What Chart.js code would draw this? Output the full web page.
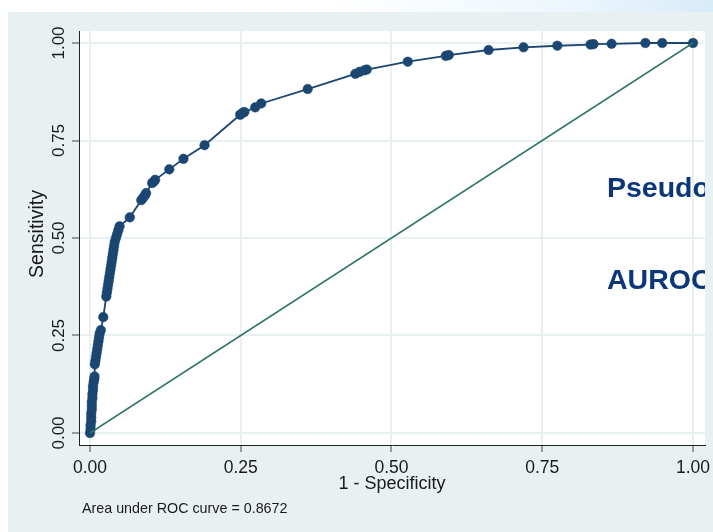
<!DOCTYPE html>
<html>
<head>
<meta charset="utf-8">
<script src="https://cdn.jsdelivr.net/npm/chart.js@4"></script>
<style>
html,body{margin:0;padding:0;background:#fff;}
canvas{display:block;}
</style>
</head>
<body>
<canvas id="c" width="713" height="532"></canvas>
<script>
// ---- data ----
const fpr = [
  0,0.001,0.001,0.002,0.002,0.002,0.003,0.003,0.003,0.004,0.004,0.005,0.005,0.006,0.007,0.0075,
  0.008,0.009,0.010,0.011,0.012,0.013,0.014,0.015,0.016,0.018,
  0.022,
  0.027,0.028,0.029,0.030,0.031,0.032,0.033,0.034,0.035,0.036,0.037,0.038,0.039,0.040,0.041,0.043,0.045,0.047,0.049,
  0.066,
  0.085,0.088,0.091,0.093,
  0.103,0.106,0.108,
  0.1315,0.155,0.190,
  0.249,0.253,0.256,0.274,0.284,
  0.361,0.440,0.447,0.455,0.459,
  0.527,0.590,0.595,0.661,0.719,0.775,0.830,0.835,0.865,0.921,0.949,1.000
];
const tpr = [
  0,0.010,0.020,0.030,0.040,0.050,0.060,0.070,0.080,0.090,0.100,0.110,0.120,0.130,0.138,0.145,
  0.176,0.185,0.195,0.205,0.215,0.225,0.235,0.245,0.255,0.264,
  0.297,
  0.350,0.360,0.370,0.380,0.390,0.400,0.410,0.420,0.430,0.440,0.450,0.460,0.470,0.480,0.490,0.500,0.510,0.520,0.530,
  0.553,
  0.597,0.603,0.609,0.615,
  0.641,0.645,0.649,
  0.676,0.703,0.738,
  0.816,0.821,0.823,0.835,0.845,
  0.882,0.921,0.926,0.930,0.932,
  0.952,0.967,0.969,0.982,0.989,0.993,0.996,0.997,0.998,1.000,1.000,1.000
];
const refX = [0, 1];
const refY = [0, 1];
const xTicks = [0, 0.25, 0.5, 0.75, 1];
const yTicks = [0, 0.25, 0.5, 0.75, 1];
const xTickLabels = ['0.00','0.25','0.50','0.75','1.00'];
const yTickLabels = ['0.00','0.25','0.50','0.75','1.00'];
const xTitle = '1 - Specificity';
const yTitle = 'Sensitivity';
const noteText = 'Area under ROC curve = 0.8672';
const overlayTexts = ['Pseudo', 'AUROC'];

// ---- build ----
const rocData = fpr.map((v,i)=>({x:v, y:tpr[i]}));
const refData = refX.map((v,i)=>({x:v, y:refY[i]}));

const bgPlugin = {
  id:'bg',
  beforeDraw(chart){
    const {ctx, chartArea:a, width, height} = chart;
    ctx.save();
    ctx.fillStyle = '#ffffff';
    ctx.fillRect(0,0,width,height);
    const g = ctx.createLinearGradient(330,0,713,0);
    g.addColorStop(0,'#ffffff');
    g.addColorStop(0.6,'#eef7fd');
    g.addColorStop(1,'#d8ebf8');
    ctx.fillStyle = g;
    ctx.fillRect(0,0,width,12);
    ctx.fillStyle = '#e9f0f2';
    ctx.fillRect(8,12,width-8,height-12);
    ctx.fillStyle = '#ffffff';
    ctx.fillRect(a.left,a.top,a.right-a.left,a.bottom-a.top);
    ctx.restore();
  }
};

const FONT = '"Liberation Sans", Arial, sans-serif';
const textPlugin = {
  id:'texts',
  afterDraw(chart){
    const {ctx, chartArea:a} = chart;
    const xs = chart.scales.x, ys = chart.scales.y;
    ctx.save();
    ctx.fillStyle = '#1a1a1a';
    ctx.font = '17.5px ' + FONT;
    ctx.textAlign = 'center';
    ctx.textBaseline = 'alphabetic';
    xTicks.forEach((v,i)=>{
      ctx.fillText(xTickLabels[i], xs.getPixelForValue(v), 473);
    });
    ctx.font = '17px ' + FONT;
    yTicks.forEach((v,i)=>{
      ctx.save();
      ctx.translate(63.5, ys.getPixelForValue(v));
      ctx.rotate(-Math.PI/2);
      ctx.fillText(yTickLabels[i], 0, 0);
      ctx.restore();
    });
    ctx.font = '18px ' + FONT;
    ctx.fillText(xTitle, (a.left+a.right)/2, 489);
    ctx.save();
    ctx.font = '19.5px ' + FONT;
    ctx.translate(42.5, 234);
    ctx.rotate(-Math.PI/2);
    ctx.fillText(yTitle, 0, 0);
    ctx.restore();
    ctx.textAlign = 'left';
    ctx.font = '14.3px ' + FONT;
    ctx.fillText(noteText, 82, 513);
    // overlay slide text, clipped at plot region
    ctx.beginPath();
    ctx.rect(a.left, 0, a.right-a.left, chart.height);
    ctx.clip();
    ctx.fillStyle = '#0b3679';
    ctx.font = 'bold 28.5px ' + FONT;
    ctx.fillText(overlayTexts[0], 607, 197);
    ctx.fillText(overlayTexts[1], 607, 289);
    ctx.restore();
  }
};

new Chart(document.getElementById('c'), {
  type: 'scatter',
  data: {
    datasets: [
      {
        data: refData,
        showLine: true,
        borderColor: '#33776a',
        borderWidth: 1.5,
        pointRadius: 0,
        pointHoverRadius: 0,
        fill: false
      },
      {
        data: rocData,
        showLine: true,
        borderColor: '#1b4672',
        backgroundColor: '#1b4672',
        borderWidth: 1.8,
        pointRadius: 4.8,
        pointBorderWidth: 0.5,
        pointBorderColor: '#1b4672',
        pointBackgroundColor: '#1b4672',
        fill: false
      }
    ]
  },
  options: {
    responsive: false,
    animation: false,
    devicePixelRatio: 1,
    layout: { padding: { top: 31, right: 8, left: 0, bottom: 0 } },
    plugins: { legend: { display: false }, tooltip: { enabled: false } },
    scales: {
      x: {
        type: 'linear',
        position: 'bottom',
        min: -0.01824,
        max: 1.0199,
        afterBuildTicks(s){ s.ticks = xTicks.map(v=>({value:v})); },
        afterFit(s){ s.height = 87; },
        ticks: { display: false },
        grid: { color: '#e9f0f2', lineWidth: 2, tickLength: 7, tickColor: '#444', tickWidth: 1, drawTicks: true },
        border: { display: true, color: '#222', width: 1 }
      },
      y: {
        type: 'linear',
        min: -0.03077,
        max: 1.03077,
        afterBuildTicks(s){ s.ticks = yTicks.map(v=>({value:v})); },
        afterFit(s){ s.width = 79; },
        ticks: { display: false },
        grid: { color: '#e9f0f2', lineWidth: 2, tickLength: 7, tickColor: '#444', tickWidth: 1, drawTicks: true },
        border: { display: true, color: '#222', width: 1 }
      }
    }
  },
  plugins: [bgPlugin, textPlugin]
});
</script>
</body>
</html>
